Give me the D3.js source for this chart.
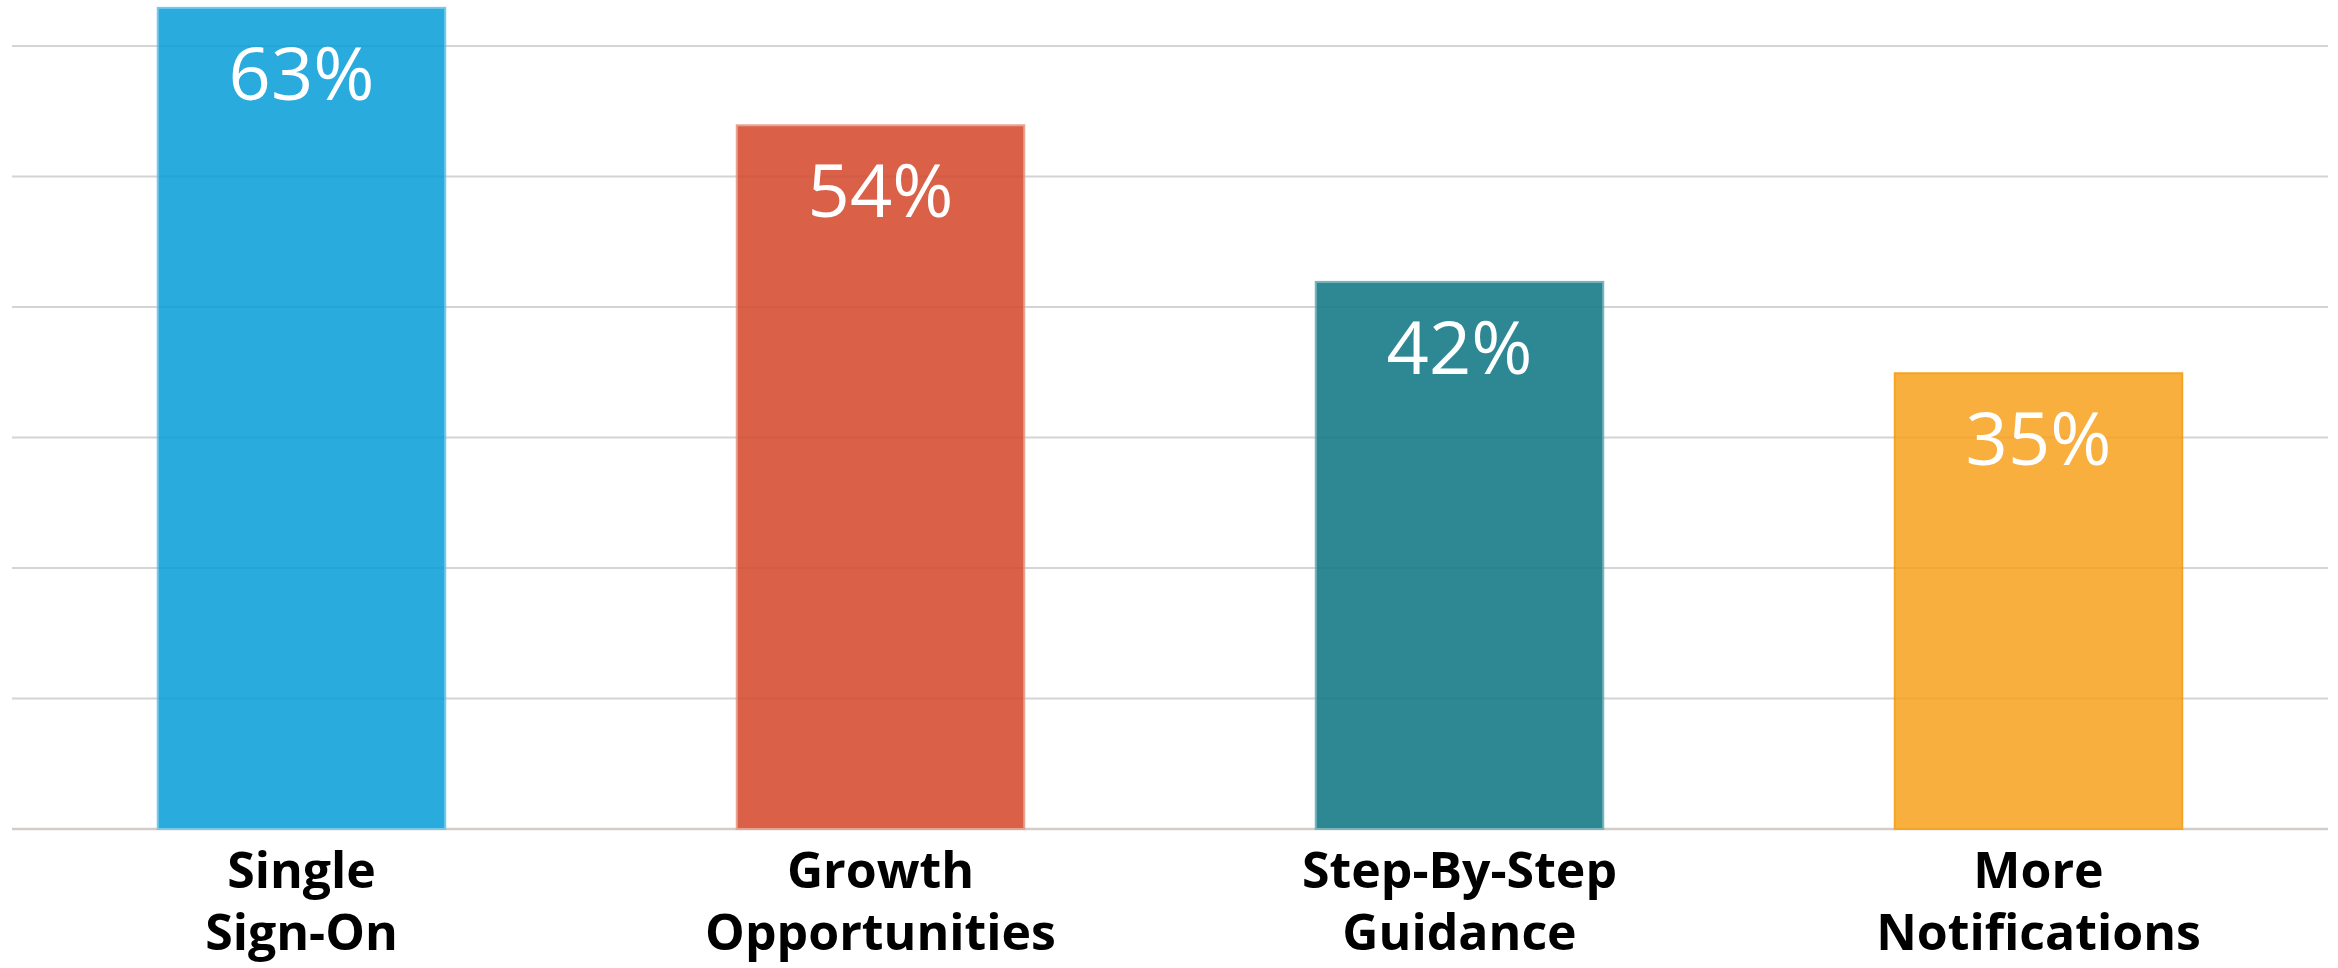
<!DOCTYPE html>
<html>
<head>
<meta charset="utf-8">
<script src="https://cdn.jsdelivr.net/npm/d3@7"></script>
<style>
  html, body { margin: 0; padding: 0; background: #fff; }
  svg { display: block; }
</style>
</head>
<body>
<svg id="chart" width="2338" height="968"></svg>
<script>
// data
const categories = [["Single", "Sign-On"], ["Growth", "Opportunities"], ["Step-By-Step", "Guidance"], ["More", "Notifications"]];
const values = [63, 54, 42, 35];
const colors = ["#29abde", "#da6048", "#2d8894", "#f9af3d"];
const borders = ["#78c8ea", "#e8a290", "#7ab4bc", "#f5a425"];
const gridTicks = [0, 10, 20, 30, 40, 50, 60];

const svg = d3.select("#chart");
const margin = { top: 46, right: 10, bottom: 139, left: 12 };
const width = +svg.attr("width") - margin.left - margin.right;
const height = +svg.attr("height") - margin.top - margin.bottom;

const chart = svg.append("g")
    .attr("transform", `translate(${margin.left},${margin.top})`);

const x = d3.scaleBand()
    .domain(d3.range(values.length))
    .range([0, width])
    .paddingInner(0.5)
    .paddingOuter(0.25);

const y = d3.scaleLinear()
    .domain([0, 60])
    .range([height, 0]);

// gridlines
chart.selectAll(".grid")
    .data(gridTicks)
    .enter()
    .append("line")
    .attr("class", "grid")
    .attr("x1", 0)
    .attr("x2", width)
    .attr("y1", d => y(d))
    .attr("y2", d => y(d))
    .attr("stroke", d => d === 0 ? "#d2cdc9" : "#dcdcdc")
    .attr("stroke-width", d => d === 0 ? 2.5 : 2);

// bars
chart.selectAll(".bar")
    .data(values)
    .enter()
    .append("rect")
    .attr("class", "bar")
    .attr("x", (d, i) => x(i) + 1)
    .attr("y", d => y(d) + 1)
    .attr("width", x.bandwidth() - 2)
    .attr("height", d => height - y(d) - 1)
    .attr("fill", (d, i) => colors[i])
    .attr("stroke", (d, i) => borders[i])
    .attr("stroke-width", 2);

// faint gridlines showing through the bars
chart.selectAll(".grid-over")
    .data(gridTicks.filter(d => d > 0))
    .enter()
    .append("line")
    .attr("class", "grid-over")
    .attr("x1", 0)
    .attr("x2", width)
    .attr("y1", d => y(d))
    .attr("y2", d => y(d))
    .attr("stroke", "#000")
    .attr("stroke-opacity", 0.035)
    .attr("stroke-width", 2);

// value labels inside the bars
chart.selectAll(".label")
    .data(values)
    .enter()
    .append("text")
    .attr("class", "label")
    .attr("x", (d, i) => x(i) + x.bandwidth() / 2)
    .attr("y", d => y(d) + 93)
    .attr("text-anchor", "middle")
    .attr("fill", "#fff")
    .style("font-family", "'Open Sans', sans-serif")
    .style("font-weight", 500)
    .style("font-size", "74px")
    .text(d => d + "%");

// category labels, two lines each
const cat = chart.selectAll(".cat")
    .data(categories)
    .enter()
    .append("text")
    .attr("class", "cat")
    .attr("text-anchor", "middle")
    .attr("fill", "#000")
    .style("font-family", "'Open Sans', sans-serif")
    .style("font-weight", "bold")
    .style("font-size", "50px");

cat.selectAll("tspan")
    .data((d, i) => d.map(line => ({ line, i })))
    .enter()
    .append("tspan")
    .attr("x", d => x(d.i) + x.bandwidth() / 2)
    .attr("y", (d, j) => height + 59 + j * 62)
    .text(d => d.line);
</script>
</body>
</html>
